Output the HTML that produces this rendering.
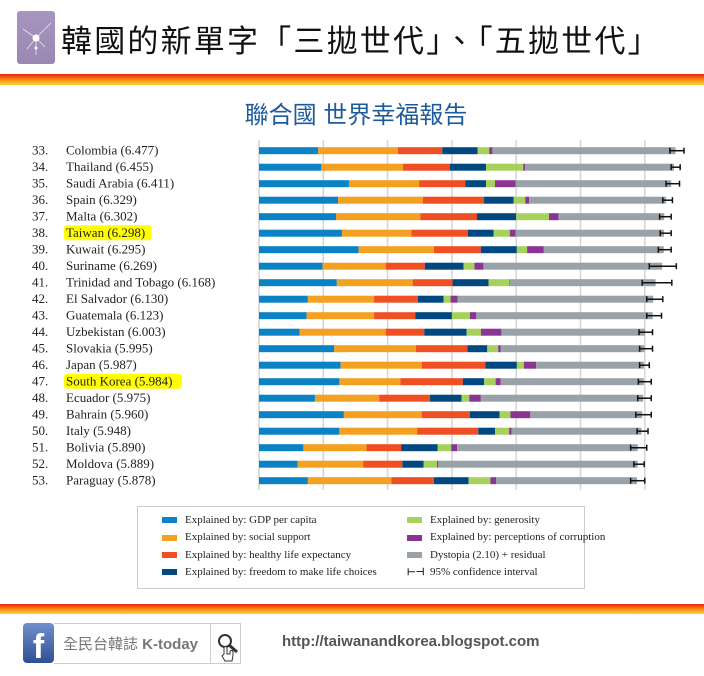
<!DOCTYPE html>
<html><head><meta charset="utf-8"><style>
body{margin:0;width:704px;height:676px;background:#fff;position:relative;overflow:hidden;font-family:"Liberation Sans","Noto Sans CJK TC",sans-serif}
.abs{position:absolute}
</style></head><body>
<div class="abs" style="left:17px;top:11px;width:38px;height:53px;background:linear-gradient(#a695c0,#9a88b2);border-radius:3px">
<svg width="38" height="53"><g stroke="#fff" stroke-width="0.8" opacity="0.8"><line x1="19" y1="27" x2="6" y2="18"/><line x1="19" y1="27" x2="34" y2="12"/><line x1="19" y1="27" x2="28" y2="36"/><line x1="19" y1="27" x2="10" y2="38"/><line x1="19" y1="27" x2="19" y2="44"/></g><circle cx="19" cy="27" r="3.5" fill="#fff"/><circle cx="19" cy="37" r="1.5" fill="#fff"/></svg></div>
<div class="abs" style="left:61px;top:16px;font-size:31px;color:#111;white-space:nowrap;letter-spacing:2.2px">韓國的新單字「三拋世代」、「五拋世代」</div>
<div class="abs" style="left:0;top:74px;width:704px;height:11px;background:linear-gradient(#e8200c,#f98a10 50%,#ffd23a)"></div>
<div class="abs" style="left:0;width:704px;top:95px;text-align:center;font-size:24px;color:#1e5b9c;padding-left:4px">聯合國 世界幸福報告</div>

<svg class="abs" style="left:0;top:0" width="704" height="500" id="chart"></svg>

<div class="abs" style="left:137px;top:506px;width:446px;height:81px;border:1px solid #ccc;font-family:'Liberation Serif',serif;font-size:11px;color:#222">
<div id="lg"></div></div>

<div class="abs" style="left:0;top:604px;width:704px;height:10px;background:linear-gradient(#e8200c,#f98a10 50%,#ffd23a)"></div>
<div class="abs" style="left:23px;top:623px;width:31px;height:40px;background:linear-gradient(#6f8fcc,#2e4f94);border-radius:4px;color:#fff;font-weight:bold;font-size:34px;line-height:48px;text-align:center;overflow:hidden">f</div>
<div class="abs" style="left:54px;top:623px;width:186px;height:39px;border:1px solid #ccc;border-left:none">
<div class="abs" style="left:9px;top:9px;font-size:15px;color:#777;white-space:nowrap">全民台韓誌 <b>K-today</b></div>
<div class="abs" style="left:156px;top:0;width:1px;height:39px;background:#ccc"></div>
<svg class="abs" style="left:160px;top:6px" width="30" height="40"><circle cx="11" cy="11" r="6" fill="none" stroke="#333" stroke-width="2"/><line x1="15" y1="15" x2="23" y2="22" stroke="#333" stroke-width="3"/><path d="M10 24 v-6 a1.5 1.5 0 0 1 3 0 v6 h3 v-2 a1.5 1.5 0 0 1 3 0 v3 l-1 6 h-7 l-3-5 z" fill="#fff" stroke="#333" stroke-width="1"/></svg>
</div>
<div class="abs" style="left:282px;top:633px;font-size:15px;font-weight:bold;color:#555">http://taiwanandkorea.blogspot.com</div>

<script>
const countries=["Colombia","Thailand","Saudi Arabia","Spain","Malta","Taiwan","Kuwait","Suriname","Trinidad and Tobago","El Salvador","Guatemala","Uzbekistan","Slovakia","Japan","South Korea","Ecuador","Bahrain","Italy","Bolivia","Moldova","Paraguay"];
const ranks=[33,34,35,36,37,38,39,40,41,42,43,44,45,46,47,48,49,50,51,52,53];
const scores=[6.477,6.455,6.411,6.329,6.302,6.298,6.295,6.269,6.168,6.130,6.123,6.003,5.995,5.987,5.984,5.975,5.960,5.948,5.890,5.889,5.878];
const gdp=[0.92,0.97,1.40,1.23,1.20,1.29,1.55,0.99,1.21,0.76,0.74,0.63,1.17,1.27,1.25,0.87,1.32,1.25,0.69,0.60,0.76];
const social=[1.24,1.27,1.09,1.32,1.31,1.08,1.17,0.98,1.18,1.03,1.05,1.34,1.27,1.26,0.95,1.00,1.21,1.21,0.98,1.02,1.30];
const health=[0.69,0.73,0.72,0.95,0.88,0.88,0.73,0.61,0.62,0.68,0.64,0.60,0.80,0.99,0.97,0.79,0.75,0.95,0.54,0.61,0.66];
const freedom=[0.55,0.56,0.32,0.46,0.61,0.40,0.56,0.60,0.56,0.40,0.57,0.66,0.31,0.49,0.33,0.49,0.46,0.26,0.57,0.33,0.54];
const generosity=[0.18,0.58,0.14,0.18,0.51,0.25,0.16,0.17,0.32,0.11,0.28,0.22,0.17,0.11,0.18,0.12,0.17,0.22,0.21,0.21,0.34];
const corruption=[0.05,0.03,0.32,0.06,0.15,0.09,0.26,0.14,0.01,0.11,0.10,0.32,0.04,0.19,0.08,0.18,0.31,0.04,0.09,0.02,0.09];
const ciLow=[6.39,6.41,6.33,6.28,6.23,6.24,6.21,6.07,5.96,6.03,6.03,5.91,5.92,5.92,5.90,5.89,5.86,5.88,5.78,5.83,5.78];
const ciHigh=[6.61,6.55,6.54,6.43,6.41,6.41,6.41,6.49,6.42,6.28,6.26,6.12,6.12,6.07,6.10,6.10,6.10,6.05,6.03,5.99,6.00];
const gridTicks=[0,1,2,3,4,5,6];
const highlighted=["Taiwan","South Korea"];

const colors=["#0a82c3","#f4a020","#f04e23","#00487f","#a6d15a","#8a3592","#99a2a8"];
const legendLabels=["Explained by: GDP per capita","Explained by: social support","Explained by: healthy life expectancy","Explained by: freedom to make life choices","Explained by: generosity","Explained by: perceptions of corruption","Dystopia (2.10) + residual","95% confidence interval"];
const X0=259,SCALE=64.3,Y0=150.7,STEP=16.5,BH=7;
const xs=v=>X0+v*SCALE, ys=i=>Y0+i*STEP;
const NS="http://www.w3.org/2000/svg";
const svg=document.getElementById('chart');
function mk(t,a){const e=document.createElementNS(NS,t);for(const k in a)e.setAttribute(k,a[k]);svg.appendChild(e);return e;}
gridTicks.forEach(t=>{
 const l=mk('line',{x1:xs(t),x2:xs(t),y1:140,y2:490,stroke:'#d4d4d4','stroke-width':1.5});
 
 
});
countries.forEach((c,i)=>{
 const y=ys(i);
 const segs=[gdp[i],social[i],health[i],freedom[i],generosity[i],corruption[i]];
 const sum=segs.reduce((a,b)=>a+b,0);
 segs.push(scores[i]-sum);
 let acc=0;
 segs.forEach((v,j)=>{
  const r=mk('rect',{x:xs(acc),y:y-BH/2,width:Math.max(0,v*SCALE),height:BH,fill:colors[j]});
  
  
  acc+=v;
 });
 const g=mk('g',{stroke:'#111','stroke-width':1.5});
 
 
 [['line',{x1:xs(ciLow[i]),x2:xs(ciHigh[i]),y1:y,y2:y}],['line',{x1:xs(ciLow[i]),x2:xs(ciLow[i]),y1:y-3,y2:y+3}],['line',{x1:xs(ciHigh[i]),x2:xs(ciHigh[i]),y1:y-3,y2:y+3}]].forEach(([t,a])=>{const e=document.createElementNS(NS,t);for(const k in a)e.setAttribute(k,a[k]);g.appendChild(e);});
 const lbl=`${c} (${scores[i].toFixed(3)})`;
 if(highlighted.includes(c)){
  const w=lbl.length*6.1;
  const h=mk('rect',{x:64,y:y-8,width:w+2,height:15,rx:3,fill:'#ffff00'});
  
  
 }
 const n=mk('text',{x:32,y:y+4,'font-family':'Liberation Serif, serif','font-size':13,fill:'#222'});
 n.textContent=ranks[i]+'.';
 
 
 const t=mk('text',{x:66,y:y+4,'font-family':'Liberation Serif, serif','font-size':13,fill:'#222'});
 t.textContent=lbl;
 
 
});
const lg=document.getElementById('lg');
legendLabels.forEach((l,k)=>{
 const col=k<4?0:1,row=k%4;
 const d=document.createElement('div');
 
 
 d.style.cssText=`position:absolute;left:${col?269:24}px;top:${7+row*17.3}px;white-space:nowrap`;
 const sw=k<7?`<span style="display:inline-block;width:15px;height:6px;background:${colors[k]};margin-right:8px;vertical-align:middle"></span>`:`<span style="display:inline-block;width:15px;margin-right:8px;font-weight:bold;vertical-align:middle;font-size:10px">⊢⊣</span>`;
 d.innerHTML=sw+l;
 lg.appendChild(d);
});
</script>
</body></html>
